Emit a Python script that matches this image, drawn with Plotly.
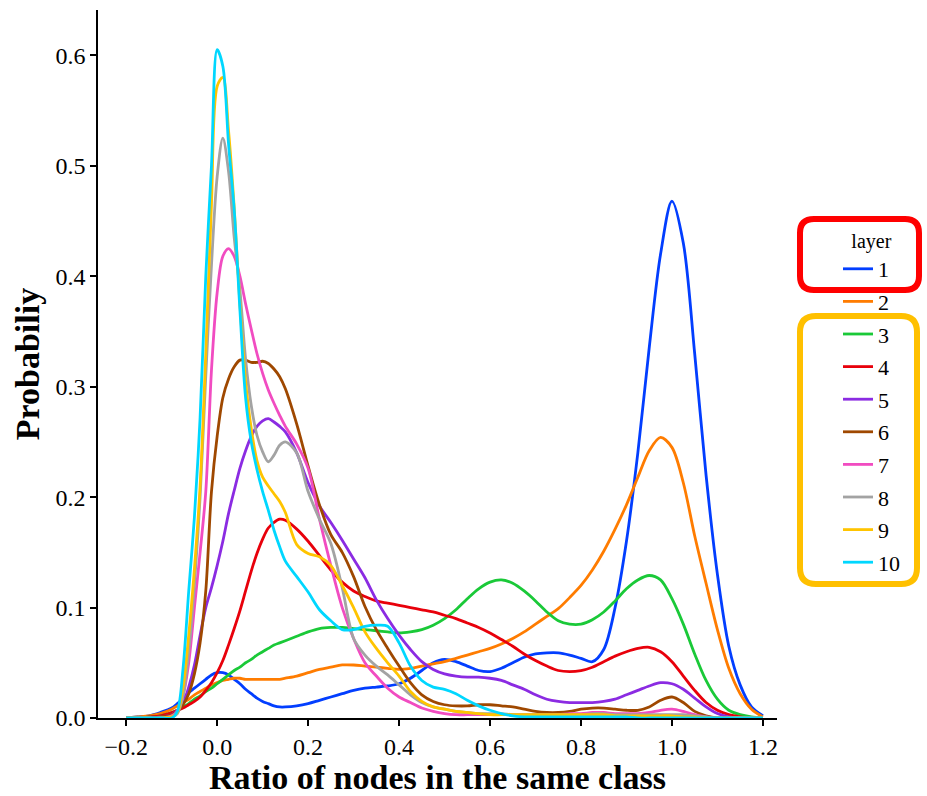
import plotly.graph_objects as go

# ---- data ----
x_grid = [-0.2, -0.175, -0.15, -0.125, -0.1, -0.0875, -0.075, -0.0625, -0.05, -0.0375,
          -0.025, -0.0125, 0.0, 0.0125, 0.025, 0.0375, 0.05, 0.0625, 0.075, 0.0875,
          0.1, 0.1125, 0.125, 0.1375, 0.15, 0.175, 0.2, 0.225, 0.25, 0.275,
          0.3, 0.325, 0.35, 0.375, 0.4, 0.425, 0.45, 0.475, 0.5, 0.525,
          0.55, 0.575, 0.6, 0.625, 0.65, 0.675, 0.7, 0.725, 0.75, 0.775,
          0.8, 0.825, 0.85, 0.875, 0.9, 0.925, 0.95, 0.975, 1.0, 1.025,
          1.05, 1.075, 1.1, 1.125, 1.15, 1.175, 1.2]

layer1 = [0.000, 0.001, 0.002, 0.005, 0.009, 0.013, 0.018, 0.023, 0.027, 0.031,
          0.035, 0.039, 0.041, 0.041, 0.039, 0.035, 0.031, 0.026, 0.022, 0.018,
          0.015, 0.013, 0.011, 0.010, 0.010, 0.011, 0.013, 0.016, 0.019, 0.022,
          0.025, 0.027, 0.028, 0.029, 0.031, 0.036, 0.043, 0.050, 0.053, 0.051,
          0.047, 0.043, 0.042, 0.045, 0.050, 0.055, 0.058, 0.059, 0.059, 0.057,
          0.054, 0.051, 0.062, 0.100, 0.160, 0.240, 0.335, 0.420, 0.468, 0.430,
          0.330, 0.220, 0.130, 0.065, 0.030, 0.010, 0.002]
layer2 = [0.000, 0.001, 0.002, 0.004, 0.008, 0.011, 0.014, 0.017, 0.021, 0.024,
          0.027, 0.030, 0.032, 0.034, 0.035, 0.036, 0.036, 0.035, 0.035, 0.035,
          0.035, 0.035, 0.035, 0.035, 0.036, 0.038, 0.041, 0.044, 0.046, 0.048,
          0.048, 0.047, 0.046, 0.045, 0.044, 0.045, 0.047, 0.049, 0.051, 0.054,
          0.057, 0.060, 0.063, 0.067, 0.072, 0.078, 0.085, 0.092, 0.099, 0.109,
          0.120, 0.134, 0.151, 0.171, 0.193, 0.218, 0.242, 0.254, 0.245, 0.213,
          0.165, 0.122, 0.080, 0.045, 0.022, 0.008, 0.001]
layer3 = [0.000, 0.000, 0.001, 0.002, 0.005, 0.007, 0.010, 0.013, 0.017, 0.020,
          0.024, 0.027, 0.031, 0.035, 0.039, 0.043, 0.046, 0.050, 0.053, 0.057,
          0.060, 0.063, 0.066, 0.068, 0.070, 0.074, 0.078, 0.081, 0.082, 0.082,
          0.081, 0.080, 0.079, 0.078, 0.077, 0.078, 0.080, 0.084, 0.090, 0.098,
          0.108, 0.117, 0.123, 0.125, 0.122, 0.115, 0.106, 0.096, 0.088, 0.085,
          0.085, 0.089, 0.096, 0.106, 0.117, 0.125, 0.129, 0.125, 0.108, 0.085,
          0.058, 0.034, 0.017, 0.007, 0.003, 0.001, 0.000]
layer4 = [0.000, 0.000, 0.001, 0.002, 0.005, 0.007, 0.009, 0.012, 0.015, 0.019,
          0.025, 0.032, 0.041, 0.052, 0.066, 0.081, 0.097, 0.115, 0.133, 0.149,
          0.162, 0.172, 0.177, 0.180, 0.179, 0.171, 0.160, 0.147, 0.134, 0.123,
          0.115, 0.110, 0.106, 0.104, 0.102, 0.100, 0.098, 0.096, 0.093, 0.090,
          0.086, 0.082, 0.077, 0.071, 0.065, 0.058, 0.052, 0.047, 0.043, 0.042,
          0.043, 0.046, 0.051, 0.056, 0.060, 0.063, 0.064, 0.060, 0.051, 0.038,
          0.025, 0.014, 0.007, 0.003, 0.001, 0.000, 0.000]
layer5 = [0.000, 0.000, 0.000, 0.001, 0.003, 0.007, 0.013, 0.028, 0.048, 0.075,
          0.100, 0.118, 0.138, 0.160, 0.185, 0.206, 0.226, 0.242, 0.255, 0.264,
          0.269, 0.271, 0.268, 0.264, 0.259, 0.240, 0.213, 0.192, 0.177, 0.161,
          0.144, 0.127, 0.107, 0.090, 0.075, 0.062, 0.051, 0.044, 0.040, 0.038,
          0.037, 0.037, 0.036, 0.034, 0.030, 0.026, 0.021, 0.017, 0.015, 0.014,
          0.014, 0.014, 0.015, 0.017, 0.021, 0.025, 0.029, 0.032, 0.031, 0.026,
          0.018, 0.010, 0.004, 0.001, 0.000, 0.000, 0.000]
layer6 = [0.000, 0.000, 0.000, 0.001, 0.003, 0.006, 0.012, 0.022, 0.040, 0.068,
          0.115, 0.205, 0.255, 0.290, 0.307, 0.318, 0.324, 0.324, 0.322, 0.322,
          0.323, 0.321, 0.316, 0.309, 0.298, 0.266, 0.228, 0.193, 0.166, 0.150,
          0.128, 0.101, 0.080, 0.063, 0.047, 0.032, 0.021, 0.015, 0.012, 0.011,
          0.011, 0.012, 0.012, 0.011, 0.010, 0.008, 0.006, 0.005, 0.005, 0.006,
          0.008, 0.009, 0.009, 0.008, 0.007, 0.007, 0.010, 0.016, 0.019, 0.014,
          0.006, 0.002, 0.000, 0.000, 0.000, 0.000, 0.000]
layer7 = [0.000, 0.000, 0.000, 0.000, 0.002, 0.006, 0.020, 0.050, 0.100, 0.150,
          0.205, 0.315, 0.385, 0.418, 0.425, 0.418, 0.400, 0.375, 0.352, 0.330,
          0.312, 0.297, 0.285, 0.274, 0.264, 0.248, 0.226, 0.180, 0.138, 0.100,
          0.072, 0.050, 0.038, 0.027, 0.019, 0.014, 0.009, 0.006, 0.004, 0.003,
          0.003, 0.003, 0.003, 0.003, 0.003, 0.003, 0.003, 0.003, 0.003, 0.004,
          0.004, 0.005, 0.005, 0.004, 0.004, 0.004, 0.005, 0.007, 0.008, 0.006,
          0.003, 0.001, 0.000, 0.000, 0.000, 0.000, 0.000]
layer8 = [0.000, 0.000, 0.000, 0.000, 0.001, 0.004, 0.020, 0.060, 0.120, 0.200,
          0.310, 0.410, 0.490, 0.525, 0.495, 0.435, 0.388, 0.325, 0.283, 0.256,
          0.241, 0.232, 0.238, 0.247, 0.250, 0.240, 0.205, 0.180, 0.158, 0.118,
          0.072, 0.057, 0.047, 0.039, 0.030, 0.021, 0.014, 0.010, 0.008, 0.006,
          0.005, 0.004, 0.004, 0.004, 0.003, 0.003, 0.003, 0.003, 0.003, 0.003,
          0.003, 0.004, 0.004, 0.003, 0.003, 0.003, 0.003, 0.003, 0.003, 0.003,
          0.002, 0.001, 0.000, 0.000, 0.000, 0.000, 0.000]
layer9 = [0.000, 0.000, 0.000, 0.000, 0.001, 0.005, 0.028, 0.075, 0.135, 0.210,
          0.330, 0.465, 0.572, 0.580, 0.532, 0.462, 0.375, 0.305, 0.262, 0.233,
          0.218, 0.210, 0.203, 0.196, 0.186, 0.157, 0.149, 0.146, 0.138, 0.120,
          0.100, 0.078, 0.063, 0.050, 0.038, 0.024, 0.015, 0.010, 0.008, 0.006,
          0.005, 0.004, 0.003, 0.003, 0.003, 0.003, 0.003, 0.003, 0.003, 0.003,
          0.003, 0.003, 0.003, 0.002, 0.002, 0.002, 0.002, 0.002, 0.002, 0.001,
          0.001, 0.000, 0.000, 0.000, 0.000, 0.000, 0.000]
layer10 = [0.000, 0.000, 0.000, 0.000, 0.000, 0.006, 0.045, 0.115, 0.182, 0.272,
           0.400, 0.500, 0.605, 0.590, 0.520, 0.460, 0.370, 0.290, 0.250, 0.225,
           0.205, 0.188, 0.170, 0.155, 0.142, 0.128, 0.114, 0.098, 0.088, 0.080,
           0.080, 0.083, 0.084, 0.083, 0.068, 0.047, 0.034, 0.028, 0.026, 0.022,
           0.016, 0.011, 0.007, 0.004, 0.002, 0.001, 0.001, 0.001, 0.001, 0.001,
           0.001, 0.001, 0.001, 0.001, 0.001, 0.000, 0.000, 0.000, 0.000, 0.000,
           0.000, 0.000, 0.000, 0.000, 0.000, 0.000, 0.000]

layer_names = ["1", "2", "3", "4", "5", "6", "7", "8", "9", "10"]
layer_values = [layer1, layer2, layer3, layer4, layer5, layer6, layer7, layer8, layer9, layer10]
layer_colors = ["#023EFF", "#FF7C00", "#1AC938", "#E8000B", "#8B2BE2",
                "#9F4800", "#F14CC1", "#A3A3A3", "#FFC400", "#00D7FF"]

x_ticks = [-0.2, 0.0, 0.2, 0.4, 0.6, 0.8, 1.0, 1.2]
y_ticks = [0.0, 0.1, 0.2, 0.3, 0.4, 0.5, 0.6]

FONT = "Liberation Serif, Times New Roman, serif"

fig = go.Figure()
for name, vals, col in zip(layer_names, layer_values, layer_colors):
    fig.add_trace(go.Scatter(
        x=x_grid, y=vals, mode="lines", name=name,
        line=dict(color=col, width=2.8, shape="spline", smoothing=0.9),
        legendgroup=name,
    ))

# plot area in pixels: left 98, right 777, top 10, bottom 718
L, R, T, B = 98, 777, 10, 718
W, H = 927, 796


def pp(x, y):
    return (x - L) / (R - L), (B - y) / (B - T)


def rounded_box(x0, y0, x1, y1, r):
    # pixel box -> paper-coordinate rounded-rectangle path
    def P(x, y):
        a, b = pp(x, y)
        return f"{a:.5f},{b:.5f}"
    return (f"M{P(x0 + r, y0)} L{P(x1 - r, y0)} Q{P(x1, y0)} {P(x1, y0 + r)} "
            f"L{P(x1, y1 - r)} Q{P(x1, y1)} {P(x1 - r, y1)} "
            f"L{P(x0 + r, y1)} Q{P(x0, y1)} {P(x0, y1 - r)} "
            f"L{P(x0, y0 + r)} Q{P(x0, y0)} {P(x0 + r, y0)} Z")


shapes = [
    dict(type="path", xref="paper", yref="paper", path=rounded_box(800, 219, 919, 290, 14),
         line=dict(color="#FF0000", width=6), layer="above"),
    dict(type="path", xref="paper", yref="paper", path=rounded_box(800, 316, 917, 584, 16),
         line=dict(color="#FFC000", width=6), layer="above"),
]

lx, ly = pp(838, 222)

fig.update_layout(
    width=W, height=H,
    margin=dict(l=L, r=W - R, t=T, b=H - B, pad=0),
    paper_bgcolor="white", plot_bgcolor="white",
    font=dict(family=FONT, size=22, color="black"),
    showlegend=True,
    legend=dict(
        x=lx, y=ly, xanchor="left", yanchor="top",
        title=dict(text="layer", side="top center", font=dict(family=FONT, size=20)),
        font=dict(family=FONT, size=22, color="black"),
        bgcolor="rgba(0,0,0,0)", borderwidth=0,
        tracegroupgap=1, itemwidth=30,
    ),
    xaxis=dict(
        range=[-0.262, 1.231], tickvals=x_ticks, tickformat=".1f",
        showline=True, linecolor="black", linewidth=1.5, mirror=False,
        ticks="outside", ticklen=6, tickwidth=1.5, tickcolor="black",
        showgrid=False, zeroline=False,
        tickfont=dict(family=FONT, size=24, color="black"),
        title=dict(text="<b>Ratio of nodes in the same class</b>",
                   font=dict(family=FONT, size=34, color="black"), standoff=4),
    ),
    yaxis=dict(
        range=[0, 0.641], tickvals=y_ticks, tickformat=".1f",
        showline=True, linecolor="black", linewidth=1.5, mirror=False,
        ticks="outside", ticklen=6, tickwidth=1.5, tickcolor="black",
        showgrid=False, zeroline=False,
        tickfont=dict(family=FONT, size=24, color="black"),
        title=dict(text="<b>Probabiliy</b>",
                   font=dict(family=FONT, size=34, color="black"), standoff=6),
    ),
    shapes=shapes,
)

fig.write_html("out.html")
